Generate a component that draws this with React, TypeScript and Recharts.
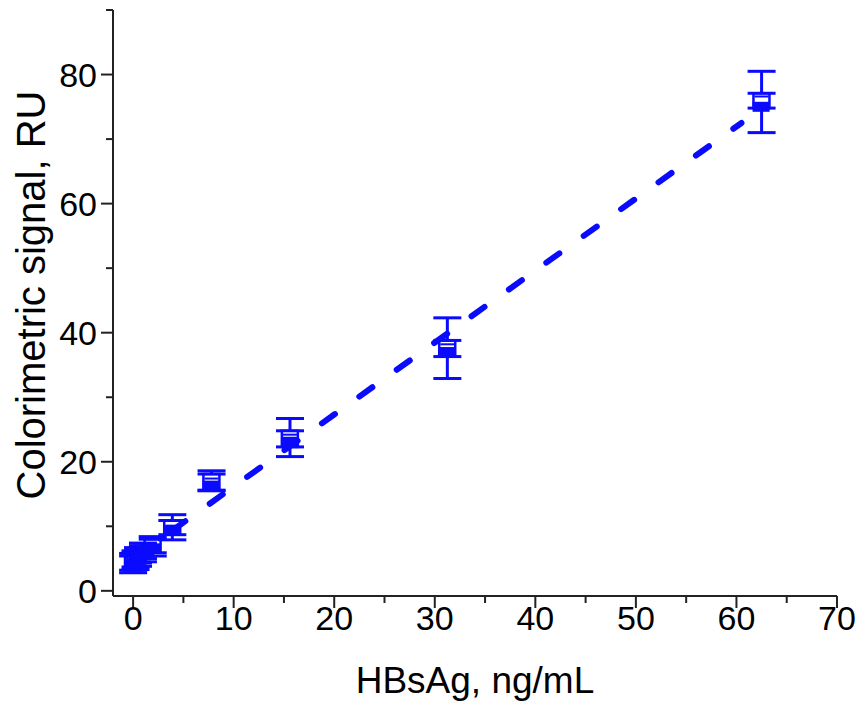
import React from "react";
import { ComposedChart, XAxis, YAxis, Scatter, ErrorBar, Bar } from "recharts";

// HBsAg concentration, ng/mL
const conc = [0, 0.24, 0.49, 0.98, 1.95, 3.9, 7.8, 15.6, 31.25, 62.5];
// box statistics per concentration (RU)
const minVals = [2.8, 3.3, 3.8, 4.5, 5.4, 7.9, 15.5, 20.8, 32.9, 71.0];
const q1Vals = [3.2, 3.7, 4.3, 5.0, 5.9, 8.7, 15.6, 22.3, 36.3, 74.8];
const medVals = [4.6, 5.0, 5.5, 6.2, 7.2, 10.1, 17.4, 24.2, 38.2, 76.6];
const q3Vals = [5.4, 5.8, 6.3, 7.0, 8.0, 10.9, 18.1, 24.8, 38.8, 77.1];
const maxVals = [5.8, 6.2, 6.7, 7.4, 8.4, 11.8, 18.6, 26.7, 42.3, 80.5];
const meanVals = [3.8, 4.2, 4.8, 5.5, 6.5, 9.4, 16.3, 23.1, 37.0, 75.0];

// linear fit line endpoints
const fitX = [3.9, 60.5];
const fitY = [9.35, 72.5];

const xTicks = [0, 5, 10, 15, 20, 25, 30, 35, 40, 45, 50, 55, 60, 65, 70];
const yTicks = [0, 10, 20, 30, 40, 50, 60, 70, 80, 90];

const boxes = conc.map((x, i) => ({
  x,
  min: minVals[i],
  q1: q1Vals[i],
  med: medVals[i],
  q3: q3Vals[i],
  max: maxVals[i],
  mean: meanVals[i],
}));
const fitLine = fitX.map((x, i) => ({ x, y: fitY[i] }));

const BLUE = "#0a0aff";
const FONT = "'Liberation Sans', Arial, sans-serif";

const XTick = (props: any) => {
  const { x, y, payload } = props;
  const major = payload.value % 10 === 0;
  return (
    <g>
      <line x1={x} x2={x} y1={y} y2={y + (major ? 12 : 7)} stroke="#222" strokeWidth={2} />
      {major && (
        <text x={x} y={y + 34} textAnchor="middle" fontSize={34} fontFamily={FONT} fill="#000">
          {payload.value}
        </text>
      )}
    </g>
  );
};

const YTick = (props: any) => {
  const { x, y, payload } = props;
  const major = payload.value % 20 === 0;
  return (
    <g>
      <line x1={x} x2={x - (major ? 12 : 7)} y1={y} y2={y} stroke="#222" strokeWidth={2} />
      {major && (
        <text x={x - 16} y={y + 12} textAnchor="end" fontSize={34} fontFamily={FONT} fill="#000">
          {payload.value}
        </text>
      )}
    </g>
  );
};

const YTitle = () => {
  const cy = 295;
  const cx = 31;
  return (
    <text
      x={cx}
      y={cy}
      transform={`rotate(-90 ${cx} ${cy})`}
      textAnchor="middle"
      dominantBaseline="central"
      fontSize={40}
      fontFamily={FONT}
      fill="#000"
    >
      Colorimetric signal, RU
    </text>
  );
};

const BoxShape = (p: any) => {
  const cx = p.x + p.width / 2;
  return (
    <rect
      x={cx - 8}
      y={p.y}
      width={16}
      height={p.height}
      fill="#fff"
      stroke={BLUE}
      strokeWidth={2.5}
    />
  );
};

const MeanMark = (p: any) => <rect x={p.cx - 9} y={p.cy - 5} width={17} height={10} fill={BLUE} />;
const MedMark = (p: any) => (
  <line x1={p.cx - 7} x2={p.cx + 7} y1={p.cy} y2={p.cy} stroke={BLUE} strokeWidth={2} />
);
const Nothing = () => <g />;

export default function App() {
  return (
    <div style={{ position: "absolute", left: 0, top: 0, background: "#fff" }}>
      <ComposedChart width={864} height={710} data={boxes} margin={{ top: 10, right: 27, left: 0, bottom: 0 }}>
        <XAxis
          type="number"
          dataKey="x"
          domain={[-2, 70]}
          ticks={xTicks}
          interval={0}
          allowDataOverflow
          height={114}
          tickSize={0}
          tickMargin={0}
          tickLine={false}
          axisLine={{ stroke: "#222", strokeWidth: 2 }}
          tick={<XTick />}
          label={{
            value: "HBsAg, ng/mL",
            position: "insideBottom",
            offset: 17,
            style: { fontSize: 37, fontFamily: FONT, fill: "#000" },
          }}
        />
        <YAxis
          type="number"
          domain={[-0.8, 90]}
          ticks={yTicks}
          interval={0}
          allowDataOverflow
          width={113}
          tickSize={0}
          tickMargin={0}
          tickLine={false}
          axisLine={{ stroke: "#222", strokeWidth: 2 }}
          tick={<YTick />}
          label={<YTitle />}
        />
        {/* whiskers */}
        <Scatter data={boxes} dataKey="q3" shape={<Nothing />} isAnimationActive={false}>
          <ErrorBar
            dataKey={(d: any) => [0, d.max - d.q3]}
            direction="y"
            width={14}
            stroke={BLUE}
            strokeWidth={3}
          />
        </Scatter>
        <Scatter data={boxes} dataKey="q1" shape={<Nothing />} isAnimationActive={false}>
          <ErrorBar
            dataKey={(d: any) => [d.q1 - d.min, 0]}
            direction="y"
            width={14}
            stroke={BLUE}
            strokeWidth={3}
          />
        </Scatter>
        <Bar
          dataKey={(d: any) => [d.q1, d.q3]}
          barSize={16}
          shape={<BoxShape />}
          isAnimationActive={false}
        />
        <Scatter data={boxes} dataKey="med" shape={<MedMark />} isAnimationActive={false} />
        <Scatter data={boxes} dataKey="mean" shape={<MeanMark />} isAnimationActive={false} />
        <Scatter
          data={fitLine}
          dataKey="y"
          shape={<Nothing />}
          line={{ stroke: BLUE, strokeWidth: 6, strokeDasharray: "16 30", strokeLinecap: "round" }}
          isAnimationActive={false}
        />
      </ComposedChart>
    </div>
  );
}
